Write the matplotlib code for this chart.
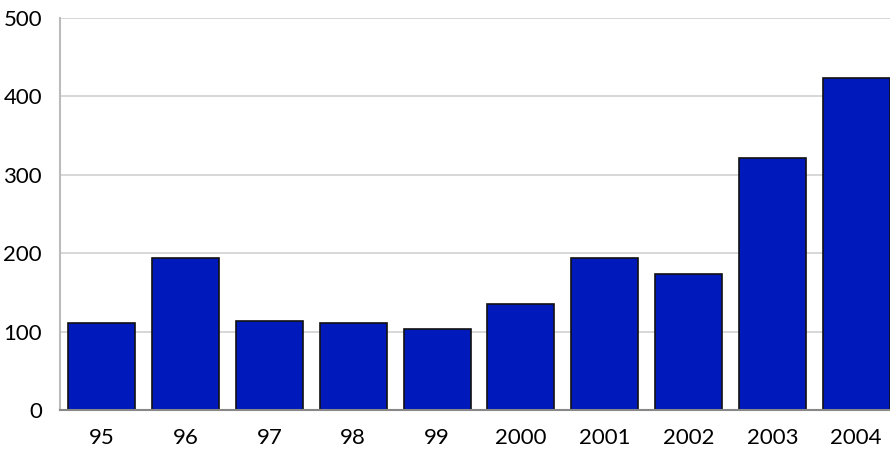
import numpy as np
import matplotlib.pyplot as plt

years = ['95', '96', '97', '98', '99', '2000', '2001', '2002', '2003', '2004']
counts = [111, 194, 114, 111, 103, 135, 194, 174, 321, 423]
yticks = [0, 100, 200, 300, 400, 500]

plt.rcParams['font.family'] = ['Lato', 'DejaVu Sans']

fig = plt.figure(figsize=(8.9, 4.49), dpi=100)
# axes runs a bit past the right edge, last bar gets clipped like the original
ax = fig.add_axes([60 / 890, 39 / 449, 838 / 890, 392 / 449])

x = np.arange(len(years))
ax.bar(x, counts, width=0.8, color='#0019bb', edgecolor='#111111', linewidth=1.2, zorder=3)

ax.set_xlim(-0.5, len(years) - 0.5)
ax.set_ylim(0, 500)
ax.set_yticks(yticks)
ax.set_xticks(x)
ax.set_xticklabels(years)
ax.tick_params(axis='both', length=0, labelsize=16, colors='black')
ax.tick_params(axis='x', pad=13)
ax.tick_params(axis='y', pad=13)

ax.grid(axis='y', color='#d4d4d4', linewidth=1.3, zorder=0)
for s in ['top', 'right']:
    ax.spines[s].set_visible(False)
ax.spines['left'].set_color('#bbbbbb')
ax.spines['left'].set_linewidth(1.5)
ax.spines['bottom'].set_color('#888888')
ax.spines['bottom'].set_linewidth(1.5)
ax.spines['bottom'].set_zorder(4)

fig.savefig('out.png', dpi=100)
